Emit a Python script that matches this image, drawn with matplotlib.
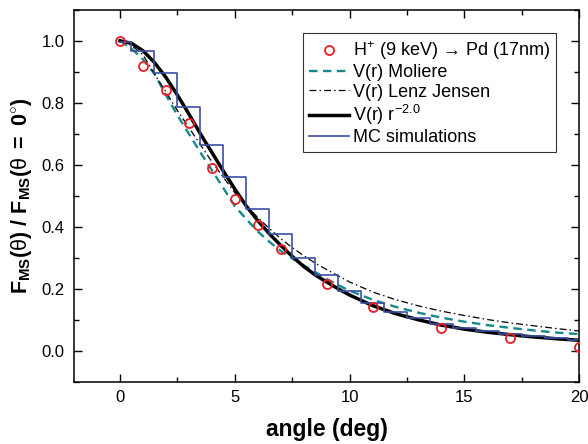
import numpy as np
import matplotlib
matplotlib.use("Agg")
import matplotlib.pyplot as plt

plt.rcParams['font.family'] = ['Liberation Sans', 'DejaVu Sans']
plt.rcParams['mathtext.fontset'] = 'custom'
plt.rcParams['mathtext.rm'] = 'Liberation Sans'
plt.rcParams['mathtext.it'] = 'Liberation Sans'
plt.rcParams['mathtext.bf'] = 'Liberation Sans:bold'

# measured points, H+ (9 keV) -> Pd (17nm)
exp_angle = [0, 1, 2, 3, 4, 5, 6, 7, 9, 11, 14, 17, 20]
exp_val = [1.0, 0.92, 0.84, 0.735, 0.59, 0.49, 0.405, 0.328, 0.215, 0.142, 0.075, 0.04, 0.012]

# curve sample angles
curve_angle = [0, 0.5, 1, 1.5, 2, 2.5, 3, 3.5, 4, 4.5, 5, 5.5, 6, 6.5, 7, 7.5,
               8, 8.5, 9, 9.5, 10, 11, 12, 13, 14, 15, 16, 17, 18, 19, 20]

moliere = [1.0, 0.975, 0.94, 0.893, 0.825, 0.76, 0.70, 0.64, 0.583, 0.525, 0.467,
           0.425, 0.385, 0.352, 0.322, 0.298, 0.276, 0.254, 0.232, 0.212, 0.194,
           0.165, 0.142, 0.123, 0.107, 0.094, 0.083, 0.074, 0.066, 0.059, 0.054]

lenz_jensen = [1.0, 0.985, 0.955, 0.893, 0.835, 0.775, 0.72, 0.665, 0.61, 0.56, 0.51,
               0.468, 0.43, 0.395, 0.362, 0.333, 0.307, 0.283, 0.262, 0.242, 0.222,
               0.19, 0.165, 0.145, 0.128, 0.114, 0.101, 0.09, 0.081, 0.072, 0.064]

r_minus2 = [1.0, 0.992, 0.968, 0.93, 0.882, 0.825, 0.764, 0.70, 0.64, 0.58, 0.522,
            0.467, 0.42, 0.378, 0.34, 0.305, 0.272, 0.245, 0.222, 0.2, 0.18,
            0.146, 0.12, 0.1, 0.083, 0.07, 0.06, 0.052, 0.045, 0.039, 0.034]

# MC simulation histogram (1 deg bins centred on integer angles)
mc_angle = list(range(0, 21))
mc_val = [0.996, 0.966, 0.895, 0.787, 0.664, 0.561, 0.456, 0.376, 0.301, 0.244, 0.193,
          0.155, 0.126, 0.106, 0.087, 0.074, 0.065, 0.055, 0.047, 0.040, 0.035]

fig = plt.figure(figsize=(5.88, 4.44), dpi=100)
ax = fig.add_axes([0.126, 0.140, 0.859, 0.838])

ax.plot(exp_angle, exp_val, 'o', mfc='none', mec='#ee1c25', mew=1.3, ms=6.5,
        label='H$^{+}$ (9 keV) \u2192 Pd (17nm)', zorder=5)
ax.plot(curve_angle, moliere, '--', color='#17898a', lw=1.7, dashes=(3.6, 2.3),
        label='V(r) Moliere')
ax.plot(curve_angle, lenz_jensen, '-.', color='black', lw=0.9, dashes=(5.5, 2.5, 1.2, 2.5),
        label='V(r) Lenz Jensen')
ax.plot(curve_angle, r_minus2, '-', color='black', lw=2.5,
        label=r'V(r) r$^{-2.0}$')
ax.step(mc_angle, mc_val, where='mid', color='#3c4fa5', lw=1.2,
        label='MC simulations')

ax.set_xlim(-2, 20)
ax.set_ylim(-0.1, 1.1)
ax.set_xticks([0, 5, 10, 15, 20])
ax.set_xticks([2.5, 7.5, 12.5, 17.5], minor=True)
ax.set_yticks([0.0, 0.2, 0.4, 0.6, 0.8, 1.0])
ax.set_yticks([-0.1, 0.1, 0.3, 0.5, 0.7, 0.9, 1.1], minor=True)
ax.set_yticklabels(['0.0', '0.2', '0.4', '0.6', '0.8', '1.0'])
ax.tick_params(which='both', direction='in', top=True, right=True, labelsize=12,
               width=1.0)
ax.tick_params(which='major', length=6, pad=7)
ax.tick_params(which='minor', length=3.5)
ax.tick_params(axis='x', pad=6)
for s in ax.spines.values():
    s.set_linewidth(1.1)

ax.set_xlabel('angle (deg)', fontsize=16.5, fontweight='bold', labelpad=9)
ax.set_ylabel(r'$\mathbf{F}_{\mathbf{MS}}\mathbf{(}\theta\mathbf{)}$ $\mathbf{/}$ '
              r'$\mathbf{F}_{\mathbf{MS}}\mathbf{(}\theta\ \mathbf{=}\ \mathbf{0}^{\circ}\mathbf{)}$',
              fontsize=15.5, labelpad=5)

leg = ax.legend(loc='upper right', bbox_to_anchor=(0.954, 0.937), borderaxespad=0,
                fontsize=13, frameon=True, fancybox=False, edgecolor='black',
                handlelength=2.2, handletextpad=0.2, labelspacing=0.12,
                borderpad=0.35)
leg.get_frame().set_linewidth(0.8)

fig.savefig('out.png', dpi=100)
